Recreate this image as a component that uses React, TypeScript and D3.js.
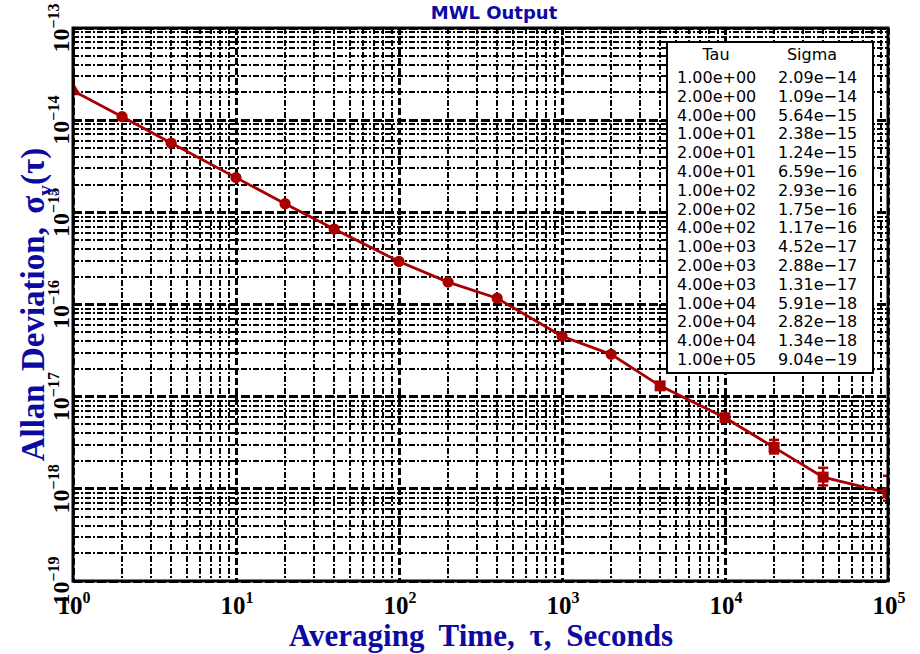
import React from 'react';
import * as d3 from 'd3';

const taus = [1, 2, 4, 10, 20, 40, 100, 200, 400, 1000, 2000, 4000, 1e4, 2e4, 4e4, 1e5];
const sigmas = [2.09e-14, 1.09e-14, 5.64e-15, 2.38e-15, 1.24e-15, 6.59e-16, 2.93e-16, 1.75e-16, 1.17e-16, 4.52e-17, 2.88e-17, 1.31e-17, 5.91e-18, 2.82e-18, 1.34e-18, 9.04e-19];
const errHi = [0, 0, 0, 0, 0, 0, 0, 0, 0, 0, 0, 0, 0.3e-18, 0.58e-18, 0.35e-18, 0.48e-18];
const errLo = [0, 0, 0, 0, 0, 0, 0, 0, 0, 0, 0, 0, 0.3e-18, 0.4e-18, 0.25e-18, 0.16e-18];
const markerShapes = ['triangle', 'circle', 'circle', 'circle', 'circle', 'circle', 'circle', 'circle', 'circle', 'circle', 'circle', 'square', 'square', 'square', 'square', 'square'];
const xTickExps = [0, 1, 2, 3, 4, 5];
const yTickExps = [-13, -14, -15, -16, -17, -18, -19];
const tableHeaders = ['Tau', 'Sigma'];
const titleText = 'MWL Output';
const xLabelText = 'Averaging Time, τ, Seconds';

const W = 920, H = 654;
const L = 73, R = 888, T = 28, B = 581;
const BLUE = '#0b0ba4';
const RED = '#a80000';

function fmtExp(v: number) {
  const s = v.toExponential(2);
  const [m, e] = s.split('e');
  const sign = e[0] === '-' ? '−' : '+';
  const digits = e.slice(1).padStart(2, '0');
  return `${m}e${sign}${digits}`;
}

export default function App() {
  const x = d3.scaleLog().domain([1, 1e5]).range([L, R]);
  const y = d3.scaleLog().domain([1e-19, 1e-13]).range([B, T]);

  const xMajor = xTickExps.map((e) => Math.pow(10, e));
  const yMajor = yTickExps.map((e) => Math.pow(10, e));
  const xMinor: number[] = [];
  for (let e = 0; e < 5; e++) for (let k = 2; k <= 9; k++) xMinor.push(k * Math.pow(10, e));
  const yMinor: number[] = [];
  for (let e = -19; e < -13; e++) for (let k = 2; k <= 9; k++) yMinor.push(k * Math.pow(10, e));

  const line = d3.line<number>().x((_, i) => x(taus[i])).y((d) => y(d));
  const sym = (shape: string) => {
    const t = shape === 'triangle' ? d3.symbolTriangle : shape === 'square' ? d3.symbolSquare : d3.symbolCircle;
    const size = shape === 'triangle' ? 110 : shape === 'square' ? 120 : 100;
    return d3.symbol().type(t).size(size)() as string;
  };

  const legX = 667, legY = 42, legW = 206, legH = 331;
  const rowY0 = 83, rowStep = 18.8;

  return (
    <svg width={W} height={H} style={{ position: 'absolute', left: 0, top: 0, background: '#fff' }}>
      <defs>
        <clipPath id="plotclip">
          <rect x={L} y={T} width={R - L} height={B - T} />
        </clipPath>
      </defs>
      <rect x={0} y={0} width={W} height={H} fill="#fff" />
      <g shapeRendering="crispEdges">
        {xMinor.map((v, i) => (
          <line key={'xm' + i} x1={x(v)} x2={x(v)} y1={T} y2={B} stroke="#000" strokeWidth={2} strokeDasharray="6,2,2,2" />
        ))}
        {yMinor.map((v, i) => (
          <line key={'ym' + i} x1={L} x2={R} y1={y(v)} y2={y(v)} stroke="#000" strokeWidth={2} strokeDasharray="6,2,2,2" />
        ))}
        {xMajor.map((v, i) => (
          <line key={'xM' + i} x1={x(v)} x2={x(v)} y1={T} y2={B} stroke="#000" strokeWidth={3} strokeDasharray="7,3" />
        ))}
        {yMajor.map((v, i) => (
          <line key={'yM' + i} x1={L} x2={R} y1={y(v)} y2={y(v)} stroke="#000" strokeWidth={3} strokeDasharray="9,3" />
        ))}
      </g>
      <g clipPath="url(#plotclip)">
        <path d={line(sigmas) as string} fill="none" stroke={RED} strokeWidth={2.8} />
        {sigmas.map((s, i) =>
          errHi[i] > 0 ? (
            <g key={'eb' + i} stroke={RED} strokeWidth={2.5}>
              <line x1={x(taus[i])} x2={x(taus[i])} y1={y(s + errHi[i])} y2={y(s - errLo[i])} />
              <line x1={x(taus[i]) - 5} x2={x(taus[i]) + 5} y1={y(s + errHi[i])} y2={y(s + errHi[i])} />
              <line x1={x(taus[i]) - 5} x2={x(taus[i]) + 5} y1={y(s - errLo[i])} y2={y(s - errLo[i])} />
            </g>
          ) : null
        )}
        {sigmas.map((s, i) => (
          <path key={'mk' + i} d={sym(markerShapes[i])} transform={`translate(${x(taus[i])},${y(s)})`} fill={RED} />
        ))}
      </g>
      <rect x={L} y={T} width={R - L} height={B - T} fill="none" stroke="#000" strokeWidth={3} />

      {/* legend table */}
      <rect x={legX} y={legY} width={legW} height={legH} fill="#fff" stroke="#000" strokeWidth={2} />
      <g fontFamily="'DejaVu Sans', sans-serif" fontSize={16} fill="#000">
        <text x={716} y={60} textAnchor="middle">{tableHeaders[0]}</text>
        <text x={812} y={60} textAnchor="middle">{tableHeaders[1]}</text>
        {taus.map((t, i) => (
          <g key={'row' + i}>
            <text x={677} y={rowY0 + i * rowStep}>{fmtExp(t)}</text>
            <text x={778} y={rowY0 + i * rowStep}>{fmtExp(sigmas[i])}</text>
          </g>
        ))}
      </g>

      {/* tick labels */}
      <g fontFamily="'Liberation Serif', serif" fontWeight="bold" fill="#000">
        {xTickExps.map((e) => (
          <text key={'xt' + e} x={x(Math.pow(10, e)) + 1} y={614} textAnchor="middle" fontSize={25}>
            10<tspan fontSize={16} dy={-11}>{e}</tspan>
          </text>
        ))}
        {yTickExps.map((e) => (
          <text key={'yt' + e} transform={`translate(69,${y(Math.pow(10, e))}) rotate(-90)`} textAnchor="middle" fontSize={24}>
            10<tspan fontSize={16} dy={-10}>{'−' + Math.abs(e)}</tspan>
          </text>
        ))}
      </g>

      <text x={494} y={19} textAnchor="middle" fontFamily="'DejaVu Sans', sans-serif" fontWeight="bold" fontSize={18} fill={BLUE}>
        {titleText}
      </text>
      <text x={481} y={646} textAnchor="middle" fontFamily="'Liberation Serif', serif" fontWeight="bold" fontSize={31} fill={BLUE} wordSpacing={7}>
        {xLabelText}
      </text>
      <text transform={`translate(44,${(T + B) / 2}) rotate(-90)`} textAnchor="middle" fontFamily="'Liberation Serif', serif" fontWeight="bold" fontSize={33} fill={BLUE} wordSpacing={5}>
        Allan Deviation, σ<tspan fontSize={22} dy={8}>y</tspan><tspan dy={-8}>(τ)</tspan>
      </text>
    </svg>
  );
}
